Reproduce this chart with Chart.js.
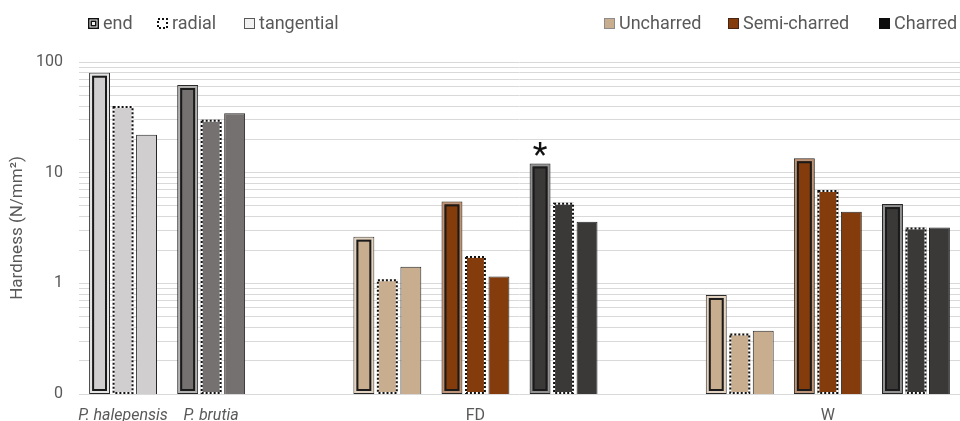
<!DOCTYPE html>
<html>
<head>
<meta charset="utf-8">
<script src="https://cdn.jsdelivr.net/npm/chart.js@4"></script>
<style>
  html, body { margin: 0; padding: 0; background: #fff; }
  #wrap { position: relative; width: 960px; height: 421px; }
</style>
</head>
<body>
<div id="wrap"><canvas id="c"></canvas></div>
<script>
// Wood hardness by sample group and cut face (log scale)
const groups = ['P. halepensis', 'P. brutia', '', 'FD uncharred', 'FD semi-charred', 'FD charred',
                '', 'W uncharred', 'W semi-charred', 'W charred'];
const xTickLabels = ['P. halepensis', 'P. brutia', '', '', 'FD', '', '', '', 'W', ''];
const endValues        = [80, 62, null, 2.64, 5.5, 12.1, null, 0.785, 13.5, 5.2];
const radialValues     = [40, 30, null, 1.09, 1.77, 5.35, null, 0.353, 6.97, 3.2];
const tangentialValues = [22, 34.4, null, 1.41, 1.15, 3.6, null, 0.373, 4.44, 3.2];
const groupColors = ['#d0cece', '#767171', null, '#c8ad8f', '#843c0c', '#3b3838',
                     null, '#c8ad8f', '#843c0c', '#3b3838'];
const yTickValues = [0.1, 1, 10, 100];
const yTickLabels = ['0', '1', '10', '100'];
const faceLabels = ['end', 'radial', 'tangential'];
const charLabels = ['Uncharred', 'Semi-charred', 'Charred'];
const charColors = ['#c8ad8f', '#843c0c', '#0d0d0d'];
const charBorders = ['#8c8c8c', '#4a2412', '#0d0d0d'];
const markedGroup = 5;   // FD charred, end face

const FONT = 'Roboto, "Open Sans", sans-serif';
const TEXT = '#595959';

function mixWhite(hex, t) {
  const n = parseInt(hex.slice(1), 16);
  const r = (n >> 16) & 255, g = (n >> 8) & 255, b = n & 255;
  const m = c => Math.round(c + (255 - c) * t);
  return `rgb(${m(r)},${m(g)},${m(b)})`;
}

// Extra outlines: double line on end-face bars, dotted on radial bars, star marker
const barStyling = {
  id: 'barStyling',
  afterDatasetsDraw(chart) {
    const ctx = chart.ctx;
    ctx.save();
    const endMeta = chart.getDatasetMeta(0);
    endMeta.data.forEach((el, i) => {
      if (endValues[i] == null) return;
      const l = el.x - el.width / 2, t = el.y, w = el.width, h = el.base - el.y;
      ctx.lineWidth = 2;
      ctx.strokeStyle = mixWhite(groupColors[i], 0.45);
      ctx.strokeRect(l + 2, t + 2, w - 4, h - 4);
      ctx.strokeStyle = '#1a1a1a';
      ctx.strokeRect(l + 4, t + 4, w - 8, h - 8);
    });
    const radMeta = chart.getDatasetMeta(1);
    radMeta.data.forEach((el, i) => {
      if (radialValues[i] == null) return;
      const l = el.x - el.width / 2, t = el.y, w = el.width, h = el.base - el.y;
      ctx.lineWidth = 2;
      ctx.setLineDash([]);
      ctx.strokeStyle = '#ffffff';
      ctx.strokeRect(l + 1, t + 1, w - 2, h - 2);
      ctx.setLineDash([2, 2]);
      ctx.strokeStyle = '#111111';
      ctx.strokeRect(l + 1, t + 1, w - 2, h - 2);
    });
    ctx.setLineDash([]);
    // star above the marked bar
    const star = endMeta.data[markedGroup];
    ctx.font = `34px ${FONT}`;
    ctx.fillStyle = '#111111';
    ctx.textAlign = 'center';
    ctx.textBaseline = 'alphabetic';
    const m = ctx.measureText('*');
    const cy = star.y - 15;
    ctx.fillText('*', star.x, cy + (m.actualBoundingBoxAscent - m.actualBoundingBoxDescent) / 2);
    ctx.restore();
  }
};

// Two legends: cut face (left) and charring state (right)
const legends = {
  id: 'legends',
  afterDraw(chart) {
    const ctx = chart.ctx;
    ctx.save();
    ctx.font = `18px ${FONT}`;
    ctx.fillStyle = TEXT;
    ctx.textAlign = 'left';
    ctx.textBaseline = 'alphabetic';
    const base = 29, top = 18, s = 11;
    // end
    let x = 88;
    ctx.fillStyle = '#f2f2f2'; ctx.fillRect(x, top, s, s);
    ctx.lineWidth = 1.5; ctx.strokeStyle = '#111';
    ctx.strokeRect(x + 0.75, top + 0.75, s - 1.5, s - 1.5);
    ctx.strokeRect(x + 3.25, top + 3.25, s - 6.5, s - 6.5);
    // radial
    x = 157;
    ctx.fillStyle = '#ffffff'; ctx.fillRect(x, top, s, s);
    ctx.setLineDash([2, 2]); ctx.lineWidth = 2; ctx.strokeStyle = '#111';
    ctx.strokeRect(x + 1, top + 1, s - 2, s - 2);
    ctx.setLineDash([]);
    // tangential
    x = 244;
    ctx.fillStyle = '#f2f2f2'; ctx.fillRect(x, top, s, s);
    ctx.lineWidth = 1; ctx.strokeStyle = '#595959';
    ctx.strokeRect(x + 0.5, top + 0.5, s - 1, s - 1);
    ctx.fillStyle = TEXT;
    const faceX = [103, 172, 259];
    faceLabels.forEach((t, i) => ctx.fillText(t, faceX[i], base));
    const sqX = [604, 728, 879];
    const txX = [619, 743, 894];
    charLabels.forEach((t, i) => {
      ctx.fillStyle = charColors[i];
      ctx.fillRect(sqX[i], top, s, s);
      ctx.lineWidth = 1; ctx.strokeStyle = charBorders[i];
      ctx.strokeRect(sqX[i] + 0.5, top + 0.5, s - 1, s - 1);
      ctx.fillStyle = TEXT;
      ctx.fillText(t, txX[i], base);
    });
    ctx.restore();
  }
};

new Chart(document.getElementById('c'), {
  type: 'bar',
  data: {
    labels: groups,
    datasets: [
      { label: faceLabels[0], data: endValues, backgroundColor: groupColors,
        borderColor: '#262626', borderWidth: 1, borderSkipped: false },
      { label: faceLabels[1], data: radialValues, backgroundColor: groupColors, borderWidth: 0 },
      { label: faceLabels[2], data: tangentialValues, backgroundColor: groupColors,
        borderColor: '#262626', borderWidth: 1 }
    ]
  },
  options: {
    responsive: true,
    maintainAspectRatio: false,
    animation: false,
    events: [],
    categoryPercentage: 0.8,
    barPercentage: 0.89,
    layout: { padding: { top: 62, right: -3, bottom: 0, left: 0 } },
    plugins: { legend: { display: false }, tooltip: { enabled: false } },
    scales: {
      x: {
        type: 'category',
        grid: { display: false },
        border: { display: false },
        afterFit: s => { s.height = 27; },
        ticks: {
          autoSkip: false, maxRotation: 0, minRotation: 0, padding: 4, color: TEXT,
          callback: (v, i) => xTickLabels[i],
          font: c => ({ family: FONT, size: 16, style: c.index < 2 ? 'italic' : 'normal' })
        }
      },
      y: {
        type: 'logarithmic',
        min: yTickValues[0],
        max: yTickValues[yTickValues.length - 1],
        afterFit: s => { s.width = 79; },
        afterBuildTicks: s => {
          const t = [];
          for (let d = 0; d < yTickValues.length - 1; d++) {
            t.push({ value: yTickValues[d] });
            for (let k = 2; k <= 9; k++) t.push({ value: yTickValues[d] * k });
          }
          t.push({ value: yTickValues[yTickValues.length - 1] });
          s.ticks = t;
        },
        grid: { color: '#d9d9d9', lineWidth: 1, drawTicks: false },
        border: { display: false },
        ticks: {
          autoSkip: false, padding: 16, color: TEXT,
          font: { family: FONT, size: 16 },
          callback: v => { const i = yTickValues.indexOf(v); return i >= 0 ? yTickLabels[i] : ''; }
        },
        title: {
          display: true, text: 'Hardness (N/mm²)', color: TEXT,
          font: { family: FONT, size: 17 }, padding: { top: 8, bottom: 0 }
        }
      }
    }
  },
  plugins: [barStyling, legends]
});
</script>
</body>
</html>
